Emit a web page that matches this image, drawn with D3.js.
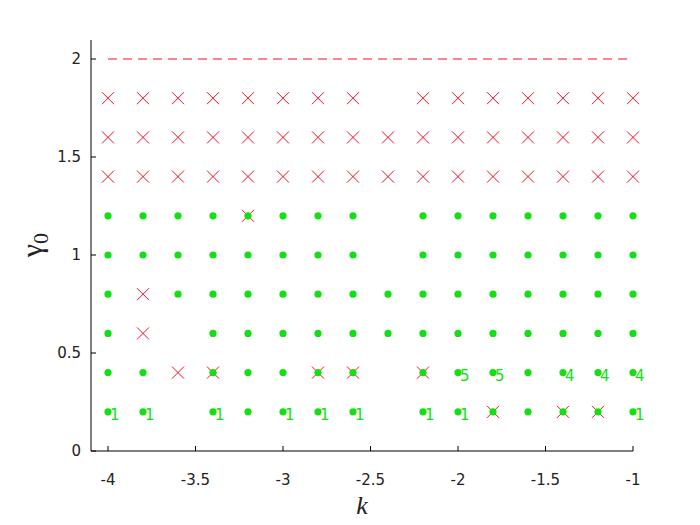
<!DOCTYPE html>
<html>
<head>
<meta charset="utf-8">
<script src="https://cdn.jsdelivr.net/npm/d3@7"></script>
<style>
  body { margin: 0; background: #fff; }
  svg { display: block; }
</style>
</head>
<body>
<div id="chart"></div>
<script>
// k values (columns) and gamma0 values (rows)
var kValues = [-4, -3.8, -3.6, -3.4, -3.2, -3, -2.8, -2.6, -2.4, -2.2, -2, -1.8, -1.6, -1.4, -1.2, -1];
var gammaValues = [1.8, 1.6, 1.4, 1.2, 1.0, 0.8, 0.6, 0.4, 0.2];

// o = green dot, x = red cross, ox = both, "" = nothing
var markGrid = [
  ["x","x","x","x","x","x","x","x","","x","x","x","x","x","x","x"],
  ["x","x","x","x","x","x","x","x","x","x","x","x","x","x","x","x"],
  ["x","x","x","x","x","x","x","x","x","x","x","x","x","x","x","x"],
  ["o","o","o","o","ox","o","o","o","","o","o","o","o","o","o","o"],
  ["o","o","o","o","o","o","o","o","","o","o","o","o","o","o","o"],
  ["o","x","o","o","o","o","o","o","o","o","o","o","o","o","o","o"],
  ["o","x","","o","o","o","o","o","o","o","o","o","o","o","o","o"],
  ["o","o","x","ox","o","o","ox","ox","","ox","o","o","o","o","o","o"],
  ["o","o","","o","o","o","o","o","","o","o","ox","o","ox","ox","o"]
];

// small numbers written next to some dots
var labelGrid = [
  ["","","","","","","","","","","","","","","",""],
  ["","","","","","","","","","","","","","","",""],
  ["","","","","","","","","","","","","","","",""],
  ["","","","","","","","","","","","","","","",""],
  ["","","","","","","","","","","","","","","",""],
  ["","","","","","","","","","","","","","","",""],
  ["","","","","","","","","","","","","","","",""],
  ["","","","","","","","","","","5","5","","4","4","4"],
  ["1","1","","1","","1","1","1","","1","1","","","","","1"]
];

var limitGamma = 2;
var xTicks = [-4, -3.5, -3, -2.5, -2, -1.5, -1];
var yTicks = [0, 0.5, 1, 1.5, 2];

// flatten grid into point list
var points = [];
gammaValues.forEach(function(g, i) {
  kValues.forEach(function(k, j) {
    points.push({k: k, g: g, mark: markGrid[i][j], label: labelGrid[i][j]});
  });
});

var width = 700, height = 525;
var svg = d3.select("#chart").append("svg")
  .attr("width", width)
  .attr("height", height);

var x = d3.scaleLinear().domain([-4, -1]).range([108, 633]);
var y = d3.scaleLinear().domain([0, 2]).range([451, 59]);

var axisLeftX = 91;
var axisTopY = 40;

// axes lines
svg.append("line")
  .attr("x1", axisLeftX).attr("x2", x(-1))
  .attr("y1", y(0)).attr("y2", y(0))
  .attr("stroke", "#000").attr("stroke-width", 1);
svg.append("line")
  .attr("x1", axisLeftX).attr("x2", axisLeftX)
  .attr("y1", axisTopY).attr("y2", y(0))
  .attr("stroke", "#000").attr("stroke-width", 1);

// x ticks (pointing inward)
var xt = svg.append("g");
xTicks.forEach(function(t) {
  xt.append("line")
    .attr("x1", x(t)).attr("x2", x(t))
    .attr("y1", y(0)).attr("y2", y(0) - 5)
    .attr("stroke", "#000");
  xt.append("text")
    .attr("x", x(t)).attr("y", 485)
    .attr("text-anchor", "middle")
    .attr("font-family", "DejaVu Sans")
    .attr("font-size", 15)
    .attr("fill", "#222")
    .text(t);
});

// y ticks
var yt = svg.append("g");
yTicks.forEach(function(t) {
  yt.append("line")
    .attr("x1", axisLeftX).attr("x2", axisLeftX + 5)
    .attr("y1", y(t)).attr("y2", y(t))
    .attr("stroke", "#000");
  yt.append("text")
    .attr("x", 81).attr("y", y(t))
    .attr("dy", "0.36em")
    .attr("text-anchor", "end")
    .attr("font-family", "DejaVu Sans")
    .attr("font-size", 15)
    .attr("fill", "#222")
    .text(t);
});

// dashed limit line
svg.append("line")
  .attr("x1", x(-4)).attr("x2", x(-1))
  .attr("y1", y(limitGamma)).attr("y2", y(limitGamma))
  .attr("stroke", "#f01020")
  .attr("stroke-width", 1)
  .attr("stroke-dasharray", "9,6");

// red crosses (drawn first, dots sit on top)
var s = 6;
svg.append("g").selectAll("path")
  .data(points.filter(function(d) { return d.mark.indexOf("x") >= 0; }))
  .join("path")
  .attr("d", function(d) {
    var cx = x(d.k), cy = y(d.g);
    return "M" + (cx - s) + "," + (cy - s) + "L" + (cx + s) + "," + (cy + s) +
           "M" + (cx - s) + "," + (cy + s) + "L" + (cx + s) + "," + (cy - s);
  })
  .attr("stroke", "#f01020")
  .attr("stroke-width", 1)
  .attr("fill", "none");

// green dots
svg.append("g").selectAll("circle")
  .data(points.filter(function(d) { return d.mark.indexOf("o") >= 0; }))
  .join("circle")
  .attr("cx", function(d) { return x(d.k); })
  .attr("cy", function(d) { return y(d.g); })
  .attr("r", 3.6)
  .attr("fill", "#12e012");

// number labels
svg.append("g").selectAll("text")
  .data(points.filter(function(d) { return d.label !== ""; }))
  .join("text")
  .attr("x", function(d) { return x(d.k) + 2; })
  .attr("y", function(d) { return y(d.g) + 8; })
  .attr("font-family", "DejaVu Sans")
  .attr("font-size", 15)
  .attr("fill", "#12e012")
  .text(function(d) { return d.label; });

// axis titles
svg.append("text")
  .attr("x", 362).attr("y", 514)
  .attr("text-anchor", "middle")
  .attr("font-family", "Liberation Serif")
  .attr("font-style", "italic")
  .attr("font-size", 26)
  .attr("fill", "#222")
  .text("k");

var yl = svg.append("text")
  .attr("transform", "translate(42,245) rotate(-90)")
  .attr("text-anchor", "middle")
  .attr("font-family", "Liberation Serif")
  .attr("font-size", 30)
  .attr("fill", "#222");
yl.append("tspan").text("\u03B3");
yl.append("tspan").attr("dy", 6).attr("font-size", 22).text("0");
</script>
</body>
</html>
